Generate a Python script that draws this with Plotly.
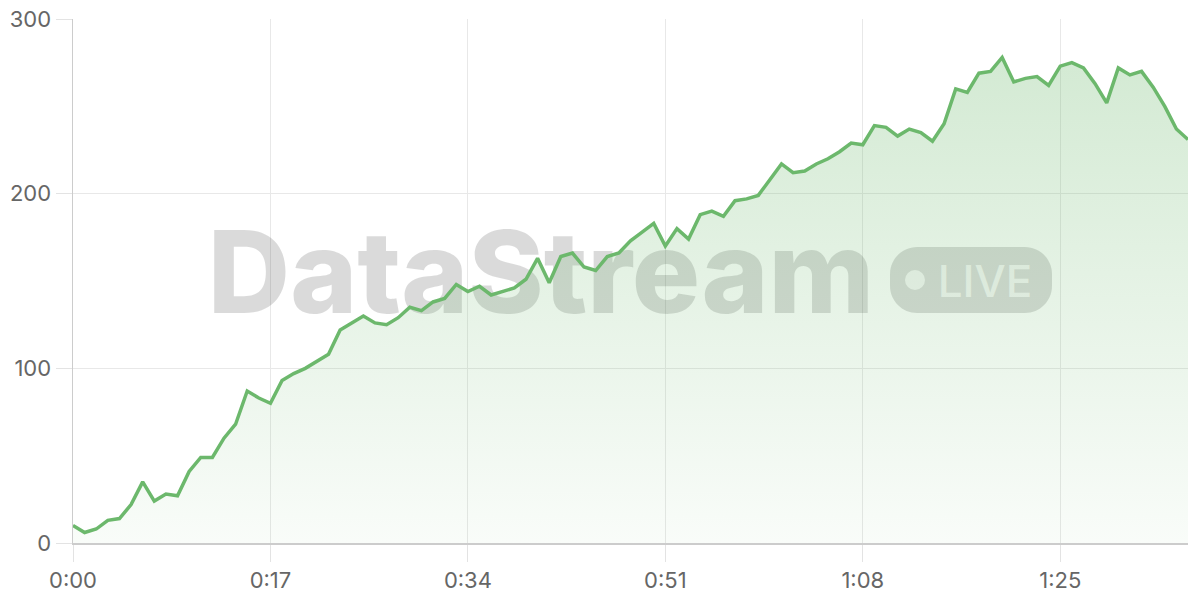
import plotly.graph_objects as go

# ---- data ----
seconds = list(range(97))
values = [10, 6, 8, 13, 14, 22, 35, 24, 28, 27,
          41, 49, 49, 60, 68, 87, 83, 80, 93, 97,
          100, 104, 108, 122, 126, 130, 126, 125, 129, 135,
          133, 138, 140, 148, 144, 147, 142, 144, 146, 151,
          163, 149, 164, 166, 158, 156, 164, 166, 173, 178,
          183, 170, 180, 174, 188, 190, 187, 196, 197, 199,
          208, 217, 212, 213, 217, 220, 224, 229, 228, 239,
          238, 233, 237, 235, 230, 240, 260, 258, 269, 270,
          278, 264, 266, 267, 262, 273, 275, 272, 263, 252,
          272, 268, 270, 261, 250, 237, 231]
tick_seconds = [0, 17, 34, 51, 68, 85]
tick_labels = ["0:00", "0:17", "0:34", "0:51", "1:08", "1:25"]
y_ticks = [0, 100, 200, 300]
y_tick_labels = ["0", "100", "200", "300"]

# ---- layout geometry (page body margin removed by post_script) ----
W, H = 1200, 600
PLOT_L, PLOT_R, PLOT_T, PLOT_B = 73, 1188, 19, 543   # on-screen plot box
ML, MR, MT, MB = PLOT_L, W - PLOT_R, PLOT_T, H - PLOT_B
X_RANGE = [0, 96]
Y_RANGE = [0, 300]


def px2x(px):
    return X_RANGE[0] + (px - PLOT_L) / (PLOT_R - PLOT_L) * (X_RANGE[1] - X_RANGE[0])


def px2y(py):
    return Y_RANGE[0] + (PLOT_B - py) / (PLOT_B - PLOT_T) * (Y_RANGE[1] - Y_RANGE[0])


def rounded_rect_path(x0, y0, x1, y1, r):
    k = 0.5523 * r
    pts = [
        ("M", [(x0 + r, y0)]),
        ("L", [(x1 - r, y0)]),
        ("C", [(x1 - r + k, y0), (x1, y0 + r - k), (x1, y0 + r)]),
        ("L", [(x1, y1 - r)]),
        ("C", [(x1, y1 - r + k), (x1 - r + k, y1), (x1 - r, y1)]),
        ("L", [(x0 + r, y1)]),
        ("C", [(x0 + r - k, y1), (x0, y1 - r + k), (x0, y1 - r)]),
        ("L", [(x0, y0 + r)]),
        ("C", [(x0, y0 + r - k), (x0 + r - k, y0), (x0 + r, y0)]),
    ]
    s = ""
    for cmd, ps in pts:
        s += cmd + " ".join(f"{px2x(a):.4f},{px2y(b):.4f}" for a, b in ps) + " "
    return s + "Z"


GREEN = "#6cb86c"
WM = "rgba(0,0,0,0.145)"
FONT = "Inter, 'Noto Sans', sans-serif"

fig = go.Figure()

# watermark text (drawn beneath the data)
fig.add_trace(go.Scatter(
    x=[px2x(541)], y=[px2y(284)], mode="text", text=["DataStream"],
    textposition="middle center",
    textfont=dict(family=FONT, size=114, color=WM, weight=800),
    hoverinfo="skip", showlegend=False,
))
fig.add_trace(go.Scatter(
    x=[px2x(985)], y=[px2y(286)], mode="text", text=["LIVE"],
    textposition="middle center",
    textfont=dict(family=FONT, size=44, color="rgba(255,255,255,0.75)", weight=500),
    hoverinfo="skip", showlegend=False,
))

# data area + line
fig.add_trace(go.Scatter(
    x=seconds, y=values, mode="lines",
    line=dict(color=GREEN, width=3.5),
    fill="tozeroy",
    fillgradient=dict(
        type="vertical", start=0, stop=280,
        colorscale=[[0, "rgba(108,184,108,0.04)"], [1, "rgba(108,184,108,0.30)"]],
    ),
    hoverinfo="skip", showlegend=False,
))

fig.add_shape(type="path", path=rounded_rect_path(890, 247, 1052, 313, 27),
              fillcolor=WM, line=dict(width=0), layer="below")
fig.add_shape(type="circle", x0=px2x(905), x1=px2x(925), y0=px2y(290), y1=px2y(270),
              fillcolor="rgba(255,255,255,0.75)", line=dict(width=0), layer="below")

fig.update_layout(
    width=W, height=H,
    margin=dict(l=ML, r=MR, t=MT, b=MB, pad=0),
    paper_bgcolor="white", plot_bgcolor="white",
    font=dict(family=FONT, size=22, color="#666666"),
    showlegend=False,
    xaxis=dict(
        range=X_RANGE, tickvals=tick_seconds, ticktext=tick_labels,
        showgrid=True, gridcolor="#e8e8e8", gridwidth=1,
        showline=True, linecolor="#cccccc", linewidth=1.5,
        ticks="outside", ticklen=17, tickcolor="#e3e3e3", tickwidth=1,
        zeroline=False, automargin=False, ticklabeloverflow="allow",
        tickfont=dict(family=FONT, size=22, color="#666666"),
    ),
    yaxis=dict(
        range=Y_RANGE, tickvals=y_ticks, ticktext=y_tick_labels,
        showgrid=True, gridcolor="#e8e8e8", gridwidth=1,
        showline=True, linecolor="#cccccc", linewidth=1.5,
        ticks="outside", ticklen=16, tickcolor="#e3e3e3", tickwidth=1,
        zeroline=False, automargin=False, ticklabeloverflow="allow",
        tickfont=dict(family=FONT, size=22, color="#666666"),
    ),
)

fig.write_html("out.html",
               config={"displayModeBar": False, "staticPlot": True},
               post_script="document.body.style.margin='0';document.body.style.overflow='hidden';")
